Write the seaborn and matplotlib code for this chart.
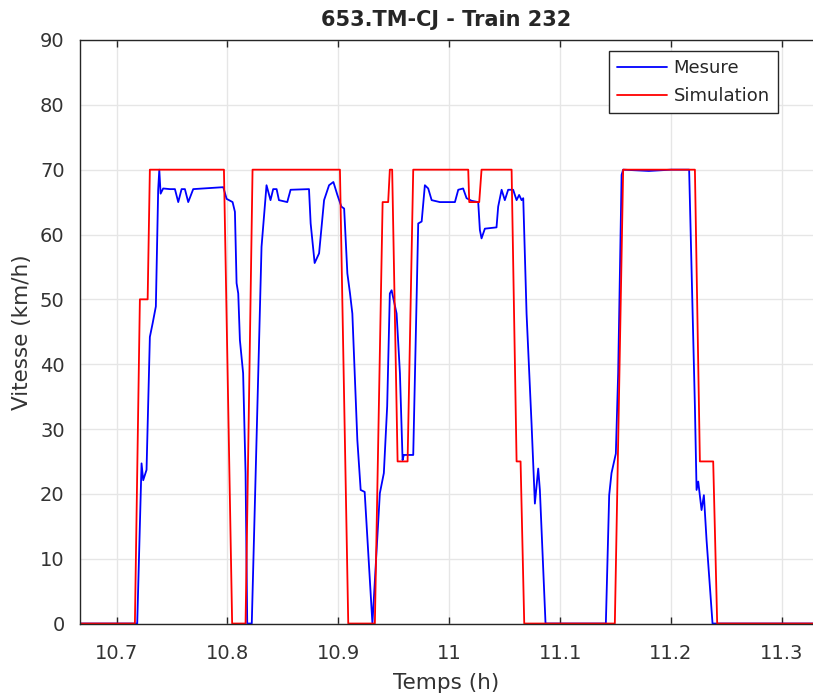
import matplotlib
matplotlib.use('Agg')
import matplotlib.pyplot as plt
import seaborn as sns

# temps (h) / vitesse (km/h)
mesure_t = [10.667, 10.7186, 10.7225, 10.7240, 10.7270, 10.7300, 10.7325, 10.7354, 10.7375,
            10.7385, 10.7397, 10.7420, 10.7481, 10.7526, 10.7556, 10.7586, 10.7616, 10.7646,
            10.7691, 10.7962, 10.7992, 10.8046, 10.8067, 10.8082, 10.8097, 10.8112, 10.8141,
            10.8163, 10.8178, 10.8219, 10.8307, 10.8352, 10.8388, 10.8412, 10.8443, 10.8464,
            10.8539, 10.8569, 10.8735, 10.8750, 10.8786, 10.8826, 10.8871, 10.8916, 10.8955,
            10.8991, 10.9027, 10.9052, 10.9066, 10.9081, 10.9105, 10.9126, 10.9171, 10.9201,
            10.9237, 10.9307, 10.9374, 10.9410, 10.9440, 10.9464, 10.9480, 10.9525, 10.9555,
            10.9579, 10.9590, 10.9675, 10.9720, 10.9751, 10.9780, 10.9810, 10.9841, 10.9915,
            11.0051, 11.0081, 11.0125, 11.0156, 11.0201, 11.0261, 11.0276, 11.0291, 11.0321,
            11.0426, 11.0441, 11.0472, 11.0501, 11.0531, 11.0576, 11.0607, 11.0630, 11.0652,
            11.0667, 11.0697, 11.0742, 11.0772, 11.0802, 11.0817, 11.0868, 11.1412, 11.1442,
            11.1463, 11.1502, 11.1523, 11.1554, 11.1568, 11.1800, 11.2000, 11.2163, 11.2215,
            11.2230, 11.2245, 11.2275, 11.2296, 11.2320, 11.2374, 11.328]
mesure_v = [0, 0, 24.7, 22.1, 23.7, 44.2, 46.3, 48.9, 66.9,
            70.0, 66.3, 67.1, 67.0, 67.0, 65.0, 67.0, 67.0, 65.0,
            67.0, 67.3, 65.5, 65.0, 63.5, 52.5, 50.9, 43.7, 38.6,
            23.2, 0, 0, 58.1, 67.6, 65.3, 67.0, 67.0, 65.3,
            65.0, 66.9, 67.0, 61.7, 55.6, 57.1, 65.3, 67.6, 68.1,
            66.1, 64.3, 64.0, 59.2, 54.0, 50.9, 47.8, 28.3, 20.6,
            20.3, 0, 20.1, 23.2, 33.5, 50.9, 51.4, 47.8, 38.6,
            25.2, 26.0, 26.0, 61.7, 62.0, 67.6, 67.1, 65.3, 65.0,
            65.0, 66.9, 67.1, 65.6, 65.2, 65.0, 60.7, 59.4, 60.9,
            61.1, 64.3, 66.9, 65.3, 66.9, 66.9, 65.3, 66.1, 65.3,
            65.6, 47.8, 30.8, 18.5, 23.9, 20.6, 0, 0, 19.8,
            23.2, 26.2, 38.6, 69.2, 70.0, 69.8, 70.0, 70.0, 33.5,
            20.6, 21.9, 17.5, 19.8, 12.9, 0, 0]

simu_t = [10.667, 10.7165, 10.7210, 10.7280, 10.7300, 10.7968, 10.8042, 10.8163, 10.8226,
          10.9014, 10.9089, 10.9329, 10.9399, 10.9449, 10.9464, 10.9485, 10.9534, 10.9624,
          10.9675, 11.0171, 11.0180, 11.0270, 11.0291, 11.0562, 11.0607, 11.0643, 11.0676,
          11.1493, 11.1568, 11.2215, 11.2260, 11.2380, 11.2416, 11.328]
simu_v = [0, 0, 50, 50, 70, 70, 0, 0, 70,
          70, 0, 0, 65, 65, 70, 70, 25, 25,
          70, 70, 65, 65, 70, 70, 25, 25, 0,
          0, 70, 70, 25, 25, 0, 0]

x_ticks = [10.7, 10.8, 10.9, 11.0, 11.1, 11.2, 11.3]
x_tick_labels = ['10.7', '10.8', '10.9', '11', '11.1', '11.2', '11.3']
y_ticks = [0, 10, 20, 30, 40, 50, 60, 70, 80, 90]

sns.set_style('whitegrid')
plt.rcParams['font.family'] = ['DejaVu Sans']

fig = plt.figure(figsize=(8.13, 6.98), dpi=100)
ax = fig.add_axes([0.0984, 0.1067, 0.9016, 0.836])

sns.lineplot(x=mesure_t, y=mesure_v, color='#0000ff', lw=1.3, sort=False,
             estimator=None, label='Mesure', ax=ax)
sns.lineplot(x=simu_t, y=simu_v, color='#ff0000', lw=1.3, sort=False,
             estimator=None, label='Simulation', ax=ax)

ax.set_xlim(10.667, 11.328)
ax.set_ylim(0, 90)
ax.set_xticks(x_ticks)
ax.set_xticklabels(x_tick_labels)
ax.set_yticks(y_ticks)
ax.grid(True, color='#e6e6e6', lw=1)
ax.tick_params(direction='in', length=5, width=1, color='#262626',
               labelsize=14, labelcolor='#333333')
ax.tick_params(axis='x', pad=15)
ax.tick_params(axis='y', pad=11)
ax.xaxis.set_ticks_position('both')
for s in ['left', 'bottom', 'top']:
    ax.spines[s].set_color('#262626')
    ax.spines[s].set_linewidth(1)
ax.spines['right'].set_visible(False)

ax.set_xlabel('Temps (h)', fontsize=15.5, color='#333333', labelpad=7)
ax.set_ylabel('Vitesse (km/h)', fontsize=15.5, color='#333333', labelpad=6)
ax.set_title('653.TM-CJ - Train 232', fontsize=15, fontweight='bold', pad=10)

leg = ax.legend(loc='upper right', bbox_to_anchor=(0.952, 0.981), borderaxespad=0,
                fancybox=False, framealpha=1, edgecolor='#262626', fontsize=13,
                handlelength=2.8, handletextpad=0.35, borderpad=0.45,
                labelspacing=0.55)
leg.get_frame().set_linewidth(1)

fig.savefig('out.png', dpi=100)
